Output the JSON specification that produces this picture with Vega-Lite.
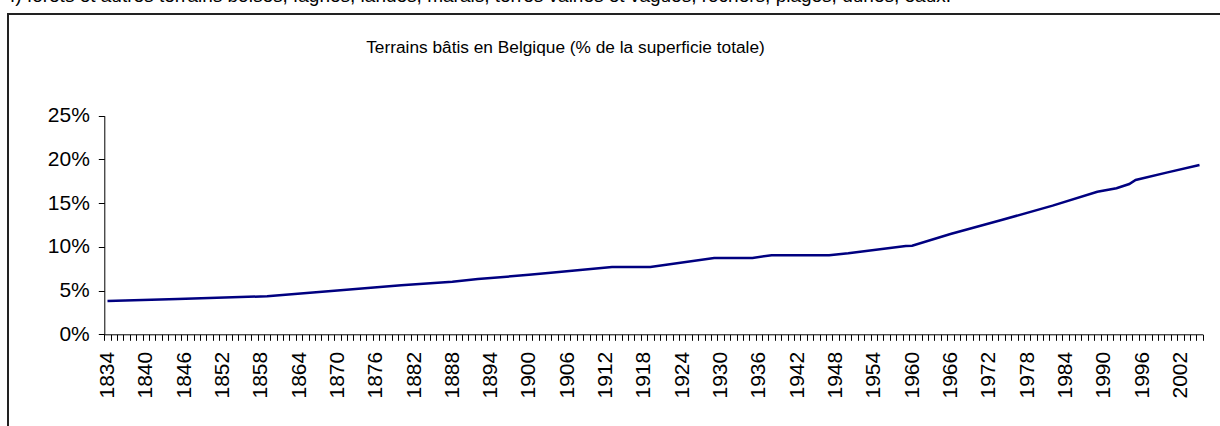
{
  "$schema": "https://vega.github.io/schema/vega-lite/v6.json",
  "autosize": "none",
  "width": 1213,
  "height": 413,
  "padding": {"left": 8, "top": 14, "right": 0, "bottom": 0},
  "background": "white",
  "title": {
    "text": "f) forêts et autres terrains boisés, fagnes, landes, marais, terres vaines et vagues, rochers, plages, dunes, eaux.",
    "anchor": "start",
    "frame": "group",
    "orient": "top",
    "offset": -7,
    "baseline": "alphabetic",
    "dx": 2,
    "font": "Liberation Sans",
    "fontSize": 19,
    "fontWeight": "normal",
    "color": "#000000"
  },
  "config": {
    "view": {"stroke": "#222222", "strokeWidth": 2},
    "axis": {
      "labelFont": "Liberation Sans",
      "labelColor": "#000000",
      "labelFontSize": 21,
      "tickColor": "#000000",
      "domainColor": "#000000",
      "grid": false
    }
  },
  "data": {
    "values": [
      {"year": 1834, "share": 0.0381},
      {"year": 1845, "share": 0.0404},
      {"year": 1859, "share": 0.0435},
      {"year": 1870, "share": 0.0500},
      {"year": 1880, "share": 0.0560},
      {"year": 1888, "share": 0.0602},
      {"year": 1892, "share": 0.0632},
      {"year": 1900, "share": 0.0680},
      {"year": 1903, "share": 0.0700},
      {"year": 1913, "share": 0.0770},
      {"year": 1919, "share": 0.0770},
      {"year": 1929, "share": 0.0873},
      {"year": 1935, "share": 0.0873},
      {"year": 1938, "share": 0.0905},
      {"year": 1947, "share": 0.0905},
      {"year": 1950, "share": 0.0926},
      {"year": 1959, "share": 0.1010},
      {"year": 1960, "share": 0.1012},
      {"year": 1966, "share": 0.1147},
      {"year": 1974, "share": 0.1307},
      {"year": 1982, "share": 0.1471},
      {"year": 1989, "share": 0.1631},
      {"year": 1992, "share": 0.1670},
      {"year": 1994, "share": 0.1719},
      {"year": 1995, "share": 0.1765},
      {"year": 2000, "share": 0.1852},
      {"year": 2005, "share": 0.1936}
    ]
  },
  "mark": {"type": "line", "color": "#000080", "strokeWidth": 2.5},
  "encoding": {
    "x": {
      "field": "year",
      "type": "quantitative",
      "scale": {"domain": [1833.5, 2005.5], "range": [96.3, 1194.7], "nice": false, "zero": false},
      "axis": {
        "orient": "bottom",
        "offset": -92.7,
        "values": [1833.5,1834.5,1835.5,1836.5,1837.5,1838.5,1839.5,1840.5,1841.5,1842.5,1843.5,1844.5,1845.5,1846.5,1847.5,1848.5,1849.5,1850.5,1851.5,1852.5,1853.5,1854.5,1855.5,1856.5,1857.5,1858.5,1859.5,1860.5,1861.5,1862.5,1863.5,1864.5,1865.5,1866.5,1867.5,1868.5,1869.5,1870.5,1871.5,1872.5,1873.5,1874.5,1875.5,1876.5,1877.5,1878.5,1879.5,1880.5,1881.5,1882.5,1883.5,1884.5,1885.5,1886.5,1887.5,1888.5,1889.5,1890.5,1891.5,1892.5,1893.5,1894.5,1895.5,1896.5,1897.5,1898.5,1899.5,1900.5,1901.5,1902.5,1903.5,1904.5,1905.5,1906.5,1907.5,1908.5,1909.5,1910.5,1911.5,1912.5,1913.5,1914.5,1915.5,1916.5,1917.5,1918.5,1919.5,1920.5,1921.5,1922.5,1923.5,1924.5,1925.5,1926.5,1927.5,1928.5,1929.5,1930.5,1931.5,1932.5,1933.5,1934.5,1935.5,1936.5,1937.5,1938.5,1939.5,1940.5,1941.5,1942.5,1943.5,1944.5,1945.5,1946.5,1947.5,1948.5,1949.5,1950.5,1951.5,1952.5,1953.5,1954.5,1955.5,1956.5,1957.5,1958.5,1959.5,1960.5,1961.5,1962.5,1963.5,1964.5,1965.5,1966.5,1967.5,1968.5,1969.5,1970.5,1971.5,1972.5,1973.5,1974.5,1975.5,1976.5,1977.5,1978.5,1979.5,1980.5,1981.5,1982.5,1983.5,1984.5,1985.5,1986.5,1987.5,1988.5,1989.5,1990.5,1991.5,1992.5,1993.5,1994.5,1995.5,1996.5,1997.5,1998.5,1999.5,2000.5,2001.5,2002.5,2003.5,2004.5,2005.5],
        "labelExpr": "(datum.value - 1833.5) % 6 == 0 ? format(datum.value + 0.5, 'd') : ''",
        "labelOffset": 3.19,
        "labelAngle": 270,
        "labelAlign": "right",
        "labelBaseline": "middle",
        "labelPadding": 11,
        "labelOverlap": false,
        "labelFlush": false,
        "labelBound": false,
        "tickSize": 6,
        "title": null
      }
    },
    "y": {
      "field": "share",
      "type": "quantitative",
      "scale": {"domain": [0, 0.25], "range": [320.3, 101.7], "nice": false, "zero": true},
      "axis": {
        "orient": "left",
        "offset": -96.3,
        "values": [0, 0.05, 0.1, 0.15, 0.2, 0.25],
        "format": ".0%",
        "tickSize": 6,
        "labelPadding": 9,
        "labelOverlap": false,
        "title": "Terrains bâtis en Belgique (% de la superficie totale)",
        "titleAngle": 0,
        "titleX": 460.7,
        "titleY": 33,
        "titleAlign": "center",
        "titleBaseline": "middle",
        "titleFont": "Liberation Sans",
        "titleFontSize": 17.3,
        "titleFontWeight": "normal",
        "titleColor": "#000000"
      }
    }
  }
}
